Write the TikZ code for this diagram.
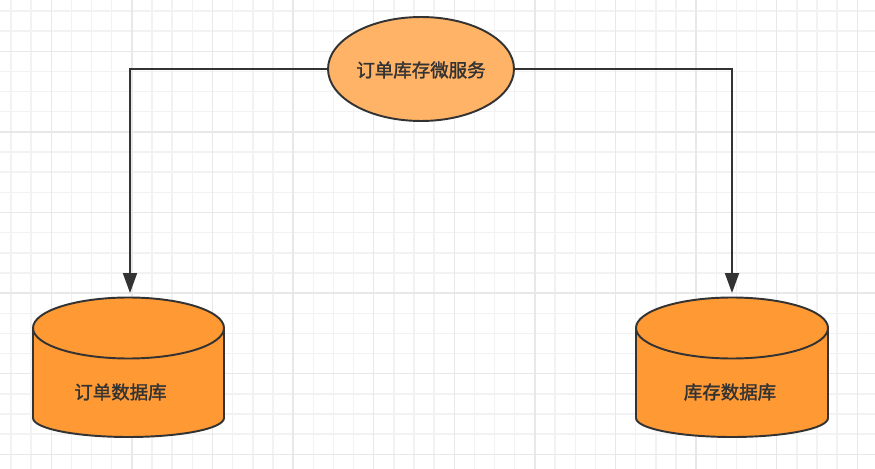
\documentclass[tikz,border=0pt]{standalone}
\usepackage{fontspec}
\newfontfamily\cjk[AutoFakeBold=1.6]{Noto Sans CJK SC}
\usetikzlibrary{shapes.geometric,arrows.meta}
\definecolor{svcfill}{HTML}{FFB366}
\definecolor{dbfill}{HTML}{FF9933}
\definecolor{edgegray}{HTML}{333333}
\definecolor{gridlight}{HTML}{F2F2F2}
\definecolor{griddark}{HTML}{E8E8E8}
\tikzset{
	every picture/.style={/utils/exec={\cjk\bfseries\fontsize{10.5pt}{12pt}\selectfont}},
	gridline/.style={draw=gridlight, line width=0.8pt},
	gridmajor/.style={draw=griddark, line width=0.8pt},
	svcbox/.style={ellipse, draw=edgegray, fill=svcfill, line width=1.1pt,
		minimum width=3.72cm, minimum height=2.08cm, inner sep=0pt},
	dbbody/.style={draw=edgegray, fill=dbfill, line width=1.1pt, line join=round},
	dbtext/.style={text=edgegray, inner sep=0pt},
	conn/.style={draw=edgegray, line width=1.1pt, -{Triangle[length=0.4cm, width=0.28cm]}}
}
\begin{document}
\begin{tikzpicture}[x=0.02cm, y=-0.02cm]
		\useasboundingbox[fill=white] (0,0) rectangle (875,469);

		% grid
		\foreach \k in {0,...,43} {
			\pgfmathsetmacro\gx{11+20.15*\k}
			\draw[gridline] (\gx,0) -- (\gx,469);
		}
		\foreach \k in {0,...,22} {
			\pgfmathsetmacro\gy{11+20.15*\k}
			\draw[gridline] (0,\gy) -- (875,\gy);
		}
		\foreach \k in {2,6,...,42} {
			\pgfmathsetmacro\gx{11+20.15*\k}
			\draw[gridmajor] (\gx,0) -- (\gx,469);
		}
		\foreach \k in {2,6,...,22} {
			\pgfmathsetmacro\gy{11+20.15*\k}
			\draw[gridmajor] (0,\gy) -- (875,\gy);
		}

		% service
		\node[svcbox] (svc) at (421,69) {};
		\node[dbtext] (svc-label) at (421,70) {订单库存微服务};

		% order database
		\draw[dbbody] (33,328) -- (33,418) arc (180:0:95.5 and 19) -- (224,328) arc (0:-180:95.5 and 30.5) -- cycle;
		\draw[dbbody, fill=none] (33,328) arc (180:0:95.5 and 30.5);
		\node[dbtext] (odb) at (120.5,392) {订单数据库};
		\coordinate (odb-top) at (130,293);

		% stock database
		\draw[dbbody] (636,328) -- (636,418) arc (180:0:96 and 19) -- (828,328) arc (0:-180:96 and 30.5) -- cycle;
		\draw[dbbody, fill=none] (636,328) arc (180:0:96 and 30.5);
		\node[dbtext] (sdb) at (730,392) {库存数据库};
		\coordinate (sdb-top) at (732,293);

		% connectors
		\draw[conn] (svc.west) -| (odb-top);
		\draw[conn] (svc.east) -| (sdb-top);
	\end{tikzpicture}
\end{document}
